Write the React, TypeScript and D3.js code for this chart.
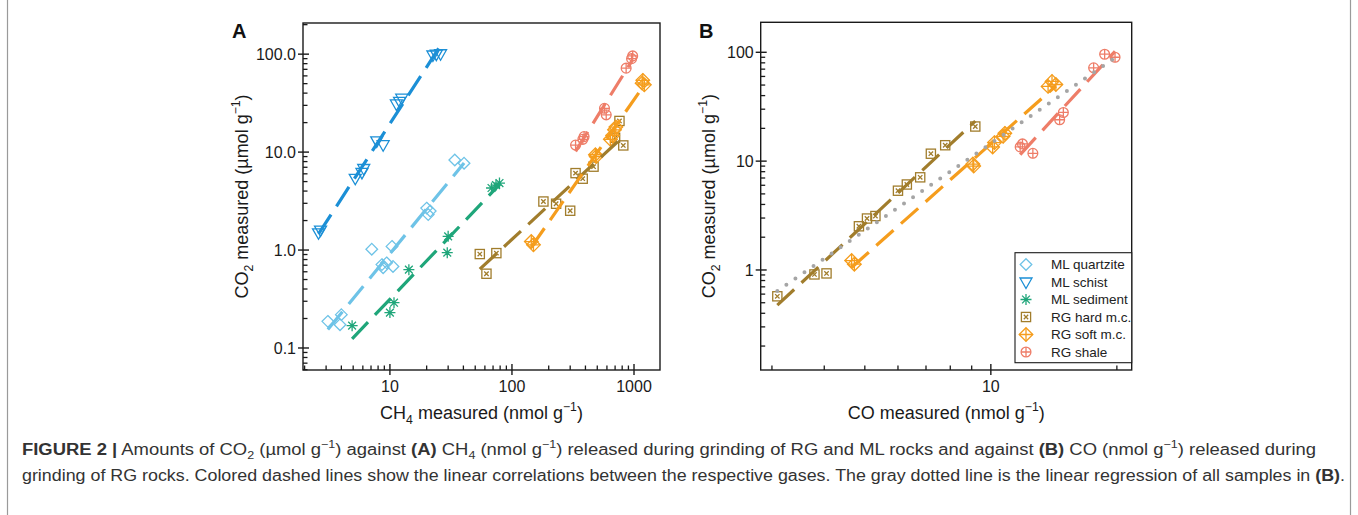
import React from "react";
import * as d3 from "d3";

const FONT = "'Liberation Sans', Arial, Helvetica, sans-serif";

// ---------- series meta ----------
const seriesNames = ["ML quartzite", "ML schist", "ML sediment", "RG hard m.c.", "RG soft m.c.", "RG shale"];
const seriesColors = ["#6ec3e7", "#1b8fd6", "#1fa67a", "#a17d2c", "#f59d1d", "#ee7d68"];
const seriesMarkers = ["diamond", "triangle", "asterisk", "squareX", "diamondPlus", "circlePlus"];

// ---------- data (CH4 nmol/g, CO nmol/g, CO2 µmol/g) ----------
const quartziteCH4 = [3.1, 3.9, 4.0, 7.1, 8.6, 8.8, 9.4, 10.4, 10.6, 20.0, 20.6, 21.4, 34, 40.5];
const quartziteCO2 = [0.187, 0.173, 0.219, 1.02, 0.71, 0.66, 0.74, 1.09, 0.68, 2.68, 2.3, 2.5, 8.3, 7.7];

const schistCH4 = [2.6, 2.7, 5.2, 5.9, 6.1, 7.8, 8.8, 11.3, 12.0, 12.5, 22.5, 24.0, 26.0];
const schistCO2 = [1.5, 1.6, 5.4, 6.2, 6.8, 13.0, 11.9, 31.0, 33.0, 35.5, 98, 100, 101];

const sedimentCH4 = [4.9, 10.0, 10.8, 14.3, 29.5, 30.0, 68, 74, 79];
const sedimentCO2 = [0.169, 0.23, 0.29, 0.63, 0.94, 1.38, 4.3, 4.6, 4.83];

const hardCO2 = [0.91, 0.573, 0.93, 3.13, 2.97, 2.52, 6.1, 5.35, 7.1, 14.0, 20.8, 11.7];
const hardCH4 = [54.5, 61.8, 74.5, 181, 230, 300, 332, 380, 466, 700, 760, 817];
const hardCO = [3.79, 3.09, 4.05, 5.3, 5.06, 4.84, 6.3, 6.0, 6.78, 7.78, 9.18, 7.19];

const softCO2 = [1.22, 1.13, 9.4, 9.0, 13.5, 14.8, 16.9, 18.0, 48.6, 50.6, 54.0];
const softCH4 = [144, 150, 483, 490, 640, 668, 692, 710, 1215, 1165, 1180];
const softCO = [4.65, 4.72, 9.06, 9.1, 10.1, 10.2, 10.7, 10.8, 13.7, 14.3, 14.0];

const shaleCO2 = [11.8, 13.5, 14.4, 24, 28, 72, 90, 96];
const shaleCH4 = [332, 381, 390, 592, 573, 862, 955, 975];
const shaleCO = [12.6, 11.75, 11.9, 14.6, 14.9, 17.6, 19.8, 18.7];

// ---------- ticks ----------
const ticksAx = [10, 100, 1000];
const labelsAx = ["10", "100", "1000"];
const ticksAy = [0.1, 1, 10, 100];
const labelsAy = ["0.1", "1.0", "10.0", "100.0"];
const ticksBx = [10];
const labelsBx = ["10"];
const ticksBy = [1, 10, 100];
const labelsBy = ["1", "10", "100"];

// ---------- helpers ----------
function logFit(xs: number[], ys: number[]) {
  const lx = xs.map(Math.log10);
  const ly = ys.map(Math.log10);
  const mx = d3.mean(lx) as number;
  const my = d3.mean(ly) as number;
  let sxy = 0, sxx = 0;
  for (let i = 0; i < lx.length; i++) {
    sxy += (lx[i] - mx) * (ly[i] - my);
    sxx += (lx[i] - mx) * (lx[i] - mx);
  }
  const b = sxy / sxx;
  const a = my - b * mx;
  const x0 = d3.min(xs) as number;
  const x1 = d3.max(xs) as number;
  return [
    [x0, Math.pow(10, a + b * Math.log10(x0))],
    [x1, Math.pow(10, a + b * Math.log10(x1))],
  ];
}

function minorTicks(domain: number[]) {
  const out: number[] = [];
  const lo = Math.floor(Math.log10(domain[0]));
  const hi = Math.ceil(Math.log10(domain[1]));
  for (let e = lo; e <= hi; e++) {
    for (let m = 2; m <= 9; m++) {
      const v = m * Math.pow(10, e);
      if (v >= domain[0] && v <= domain[1]) out.push(v);
    }
  }
  return out;
}

function Marker({ type, x, y, color }: { type: string; x: number; y: number; color: string }) {
  const sw = 1.3;
  const common = { fill: "none", stroke: color, strokeWidth: sw };
  if (type === "diamond") {
    const r = 5.8;
    return <path d={`M${x},${y - r}L${x + r},${y}L${x},${y + r}L${x - r},${y}Z`} {...common} />;
  }
  if (type === "triangle") {
    const w = 6, h1 = 4, h2 = 6.5;
    return <path d={`M${x - w},${y - h1}L${x + w},${y - h1}L${x},${y + h2}Z`} {...common} />;
  }
  if (type === "asterisk") {
    const r = 5.5, d = r * Math.SQRT1_2;
    return (
      <path
        d={`M${x - r},${y}L${x + r},${y}M${x},${y - r}L${x},${y + r}M${x - d},${y - d}L${x + d},${y + d}M${x - d},${y + d}L${x + d},${y - d}`}
        {...common}
      />
    );
  }
  if (type === "squareX") {
    const s = 4.6, i = 2.2;
    return (
      <g {...common}>
        <rect x={x - s} y={y - s} width={2 * s} height={2 * s} />
        <path d={`M${x - i},${y - i}L${x + i},${y + i}M${x - i},${y + i}L${x + i},${y - i}`} />
      </g>
    );
  }
  if (type === "diamondPlus") {
    const r = 6.8;
    return (
      <g {...common}>
        <path d={`M${x},${y - r}L${x + r},${y}L${x},${y + r}L${x - r},${y}Z`} />
        <path d={`M${x - r},${y}L${x + r},${y}M${x},${y - r}L${x},${y + r}`} />
      </g>
    );
  }
  // circlePlus
  const r = 4.9;
  return (
    <g {...common}>
      <circle cx={x} cy={y} r={r} />
      <path d={`M${x - r},${y}L${x + r},${y}M${x},${y - r}L${x},${y + r}`} />
    </g>
  );
}

type Part = { t: string; sub?: boolean; sup?: boolean; b?: boolean };

function richSpans(parts: Part[], fs: number) {
  let shift = 0;
  return parts.map((p, i) => {
    const target = p.sub ? fs * 0.28 : p.sup ? -fs * 0.42 : 0;
    const dy = target - shift;
    shift = target;
    return (
      <tspan
        key={i}
        dy={dy}
        fontSize={p.sub || p.sup ? fs * 0.68 : fs}
        fontWeight={p.b ? "bold" : "normal"}
      >
        {p.t}
      </tspan>
    );
  });
}

type Series = { xs: number[]; ys: number[]; idx: number };

function Panel({
  x, y, series, xTicks, xLabels, yTicks, yLabels, xTitle, yTitle, letter, letterX, yTitleX, tickFs,
  grayFit,
}: any) {
  const [x0, x1] = x.range();
  const [y0, y1] = y.range(); // y0 bottom, y1 top
  const minX = minorTicks(x.domain());
  const minY = minorTicks(y.domain());
  const line = d3
    .line<number[]>()
    .x((d) => x(d[0]))
    .y((d) => y(d[1]));
  const axisColor = "#1a1a1a";
  return (
    <g>
      {/* markers */}
      {series.map((s: Series) =>
        s.xs.map((xv, i) => (
          <Marker
            key={`${s.idx}-${i}`}
            type={seriesMarkers[s.idx]}
            x={x(xv)}
            y={y(s.ys[i])}
            color={seriesColors[s.idx]}
          />
        ))
      )}
      {/* fit lines */}
      {series.map((s: Series) => (
        <path
          key={`fit-${s.idx}`}
          d={line(logFit(s.xs, s.ys)) as string}
          fill="none"
          stroke={seriesColors[s.idx]}
          strokeWidth={3.2}
          strokeDasharray="23 10"
        />
      ))}
      {grayFit && (
        <path
          d={line(logFit(grayFit.xs, grayFit.ys)) as string}
          fill="none"
          stroke="#a5a5a5"
          strokeWidth={4}
          strokeLinecap="round"
          strokeDasharray="0 11"
        />
      )}
      {/* frame */}
      <rect x={x0} y={y1} width={x1 - x0} height={y0 - y1} fill="none" stroke={axisColor} strokeWidth={1.4} />
      {/* x ticks */}
      {minX.map((v: number) => (
        <line key={`mx${v}`} x1={x(v)} x2={x(v)} y1={y0} y2={y0 - 4.5} stroke={axisColor} strokeWidth={1.3} />
      ))}
      {xTicks.map((v: number, i: number) => (
        <g key={`Mx${v}`}>
          <line x1={x(v)} x2={x(v)} y1={y0 + 5} y2={y0 - 6} stroke={axisColor} strokeWidth={1.4} />
          <text x={x(v)} y={y0 + 22} textAnchor="middle" fontSize={tickFs} fontFamily={FONT} fill="#1a1a1a">
            {xLabels[i]}
          </text>
        </g>
      ))}
      {/* y ticks */}
      {minY.map((v: number) => (
        <line key={`my${v}`} x1={x0} x2={x0 + 4.5} y1={y(v)} y2={y(v)} stroke={axisColor} strokeWidth={1.3} />
      ))}
      {yTicks.map((v: number, i: number) => (
        <g key={`My${v}`}>
          <line x1={x0 - 5} x2={x0 + 6} y1={y(v)} y2={y(v)} stroke={axisColor} strokeWidth={1.4} />
          <text
            x={x0 - 7}
            y={y(v)}
            dy="0.36em"
            textAnchor="end"
            fontSize={tickFs}
            fontFamily={FONT}
            fill="#1a1a1a"
          >
            {yLabels[i]}
          </text>
        </g>
      ))}
      {/* titles */}
      <text x={(x0 + x1) / 2} y={y0 + 49} textAnchor="middle" fontSize={18} fontFamily={FONT} fill="#1a1a1a">
        {richSpans(xTitle, 18)}
      </text>
      <text
        transform={`translate(${yTitleX},${(y0 + y1) / 2}) rotate(-90)`}
        textAnchor="middle"
        fontSize={18}
        fontFamily={FONT}
        fill="#1a1a1a"
      >
        {richSpans(yTitle, 18)}
      </text>
      <text x={letterX} y={38} fontSize={20} fontWeight="bold" fontFamily={FONT} fill="#111">
        {letter}
      </text>
    </g>
  );
}

export default function App() {
  const xA = d3.scaleLog().domain([1.94, 1633]).range([303, 660]);
  const yA = d3.scaleLog().domain([0.0596, 208]).range([370, 23]);
  const xB = d3.scaleLog().domain([2.82, 21.7]).range([760.7, 1131.7]);
  const yB = d3.scaleLog().domain([0.1205, 188.6]).range([370, 22.3]);

  const seriesA: Series[] = [
    { xs: quartziteCH4, ys: quartziteCO2, idx: 0 },
    { xs: schistCH4, ys: schistCO2, idx: 1 },
    { xs: sedimentCH4, ys: sedimentCO2, idx: 2 },
    { xs: hardCH4, ys: hardCO2, idx: 3 },
    { xs: softCH4, ys: softCO2, idx: 4 },
    { xs: shaleCH4, ys: shaleCO2, idx: 5 },
  ];
  const seriesB: Series[] = [
    { xs: hardCO, ys: hardCO2, idx: 3 },
    { xs: softCO, ys: softCO2, idx: 4 },
    { xs: shaleCO, ys: shaleCO2, idx: 5 },
  ];
  const grayFit = {
    xs: [...hardCO, ...softCO, ...shaleCO],
    ys: [...hardCO2, ...softCO2, ...shaleCO2],
  };

  const yTitle: Part[] = [
    { t: "CO" },
    { t: "2", sub: true },
    { t: " measured (\u00b5mol g" },
    { t: "\u22121", sup: true },
    { t: ")" },
  ];

  const legendX = 1015, legendY = 252.7, legendW = 1131.7 - 1015, legendH = 110;
  const rowYs = [264.5, 282, 299.5, 317, 334.5, 352];

  const capFs = 16;
  const cap1: Part[] = [
    { t: "FIGURE 2 |", b: true },
    { t: " Amounts of CO" },
    { t: "2", sub: true },
    { t: " (\u00b5mol g" },
    { t: "\u22121", sup: true },
    { t: ") against " },
    { t: "(A)", b: true },
    { t: " CH" },
    { t: "4", sub: true },
    { t: " (nmol g" },
    { t: "\u22121", sup: true },
    { t: ") released during grinding of RG and ML rocks and against " },
    { t: "(B)", b: true },
    { t: " CO (nmol g" },
    { t: "\u22121", sup: true },
    { t: ") released during" },
  ];
  const cap2: Part[] = [
    {
      t: "grinding of RG rocks. Colored dashed lines show the linear correlations between the respective gases. The gray dotted line is the linear regression of all samples in ",
    },
    { t: "(B)", b: true },
    { t: "." },
  ];

  return (
    <svg
      width={1358}
      height={515}
      style={{ position: "absolute", left: 0, top: 0, background: "#fff" }}
      fontFamily={FONT}
    >
      <rect x={0} y={0} width={1358} height={515} fill="#fff" />
      <line x1={7.5} x2={7.5} y1={0} y2={515} stroke="#9a9a9a" strokeWidth={1.2} />
      <line x1={1350.5} x2={1350.5} y1={0} y2={515} stroke="#9a9a9a" strokeWidth={1.2} />

      <Panel
        x={xA}
        y={yA}
        series={seriesA}
        xTicks={ticksAx}
        xLabels={labelsAx}
        yTicks={ticksAy}
        yLabels={labelsAy}
        xTitle={[{ t: "CH" }, { t: "4", sub: true }, { t: " measured (nmol g" }, { t: "\u22121", sup: true }, { t: ")" }]}
        yTitle={yTitle}
        letter="A"
        letterX={232}
        yTitleX={248}
        tickFs={16}
      />
      <Panel
        x={xB}
        y={yB}
        series={seriesB}
        xTicks={ticksBx}
        xLabels={labelsBx}
        yTicks={ticksBy}
        yLabels={labelsBy}
        xTitle={[{ t: "CO measured (nmol g" }, { t: "\u22121", sup: true }, { t: ")" }]}
        yTitle={yTitle}
        letter="B"
        letterX={699}
        yTitleX={715}
        tickFs={16}
        grayFit={grayFit}
      />

      {/* legend */}
      <rect x={legendX} y={legendY} width={legendW} height={legendH} fill="#fff" stroke="#1a1a1a" strokeWidth={1.1} />
      {seriesNames.map((n, i) => (
        <g key={n}>
          <Marker type={seriesMarkers[i]} x={1026} y={rowYs[i]} color={seriesColors[i]} />
          <text x={1051} y={rowYs[i]} dy="0.36em" fontSize={13.5} fontFamily={FONT} fill="#222">
            {n}
          </text>
        </g>
      ))}

      {/* caption */}
      <text x={22} y={455} fontSize={capFs} fontFamily={FONT} fill="#333" textLength={1294} lengthAdjust="spacingAndGlyphs">
        {richSpans(cap1, capFs)}
      </text>
      <text x={22} y={481} fontSize={capFs} fontFamily={FONT} fill="#333" textLength={1323} lengthAdjust="spacingAndGlyphs">
        {richSpans(cap2, capFs)}
      </text>
    </svg>
  );
}
